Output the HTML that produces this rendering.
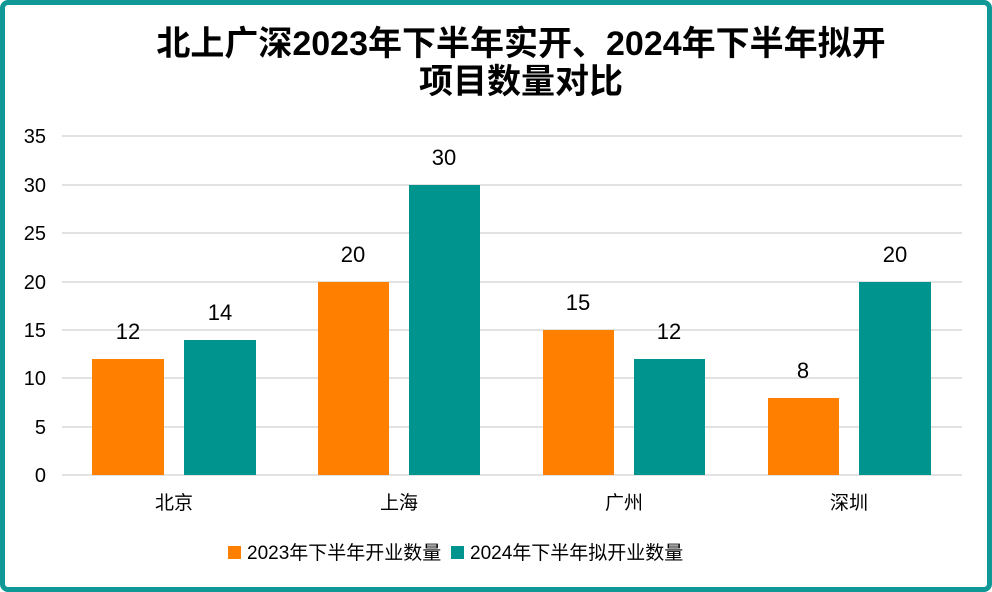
<!DOCTYPE html>
<html><head><meta charset="utf-8"><style>
body{margin:0;width:992px;height:592px;background:#fff;overflow:hidden}
.frame{position:absolute;left:0;top:0;width:982px;height:582px;border:5px solid #0f9896;border-radius:8px;background:#fff}
svg{position:absolute;left:0;top:0}
text{font-family:"Liberation Sans","Noto Sans CJK SC",sans-serif}
</style></head><body>
<div class="frame"></div>
<svg width="992" height="592" viewBox="0 0 992 592">
<text x="521" y="55" font-size="34" font-weight="bold" text-anchor="middle" fill="#000">北上广深2023年下半年实开、2024年下半年拟开</text>
<text x="521" y="93" font-size="34" font-weight="bold" text-anchor="middle" fill="#000">项目数量对比</text>
<g stroke="#d9d9d9" stroke-width="1.5">
<line x1="62" x2="962" y1="136" y2="136"/><line x1="62" x2="962" y1="185" y2="185"/>
<line x1="62" x2="962" y1="233" y2="233"/><line x1="62" x2="962" y1="282" y2="282"/>
<line x1="62" x2="962" y1="330" y2="330"/><line x1="62" x2="962" y1="378" y2="378"/>
<line x1="62" x2="962" y1="427" y2="427"/><line x1="62" x2="962" y1="475" y2="475"/>
</g>
<g font-size="20" fill="#000" text-anchor="end">
<text x="46" y="143">35</text><text x="46" y="192">30</text><text x="46" y="240">25</text>
<text x="46" y="289">20</text><text x="46" y="337">15</text><text x="46" y="385">10</text>
<text x="46" y="434">5</text><text x="46" y="482">0</text>
</g>
<g fill="#ff7f00">
<rect x="92" y="359" width="72" height="116"/><rect x="318" y="282" width="71" height="193"/>
<rect x="543" y="330" width="71" height="145"/><rect x="768" y="398" width="71" height="77"/>
</g>
<g fill="#00948f">
<rect x="184" y="340" width="72" height="135"/><rect x="409" y="185" width="71" height="290"/>
<rect x="634" y="359" width="71" height="116"/><rect x="859" y="282" width="72" height="193"/>
</g>
<g font-size="22" fill="#000" text-anchor="middle">
<text x="128" y="339">12</text><text x="220" y="320">14</text>
<text x="353" y="262">20</text><text x="444" y="165">30</text>
<text x="578" y="310">15</text><text x="669" y="339">12</text>
<text x="803" y="378">8</text><text x="895" y="262">20</text>
</g>
<g font-size="19" fill="#000" text-anchor="middle">
<text x="174" y="509">北京</text><text x="399" y="509">上海</text>
<text x="624" y="509">广州</text><text x="849" y="509">深圳</text>
</g>
<rect x="228" y="546" width="13" height="13" fill="#ff7f00"/>
<text x="247" y="559" font-size="19">2023年下半年开业数量</text>
<rect x="451" y="546" width="13" height="13" fill="#00948f"/>
<text x="470" y="559" font-size="19">2024年下半年拟开业数量</text>
</svg>
</body></html>
